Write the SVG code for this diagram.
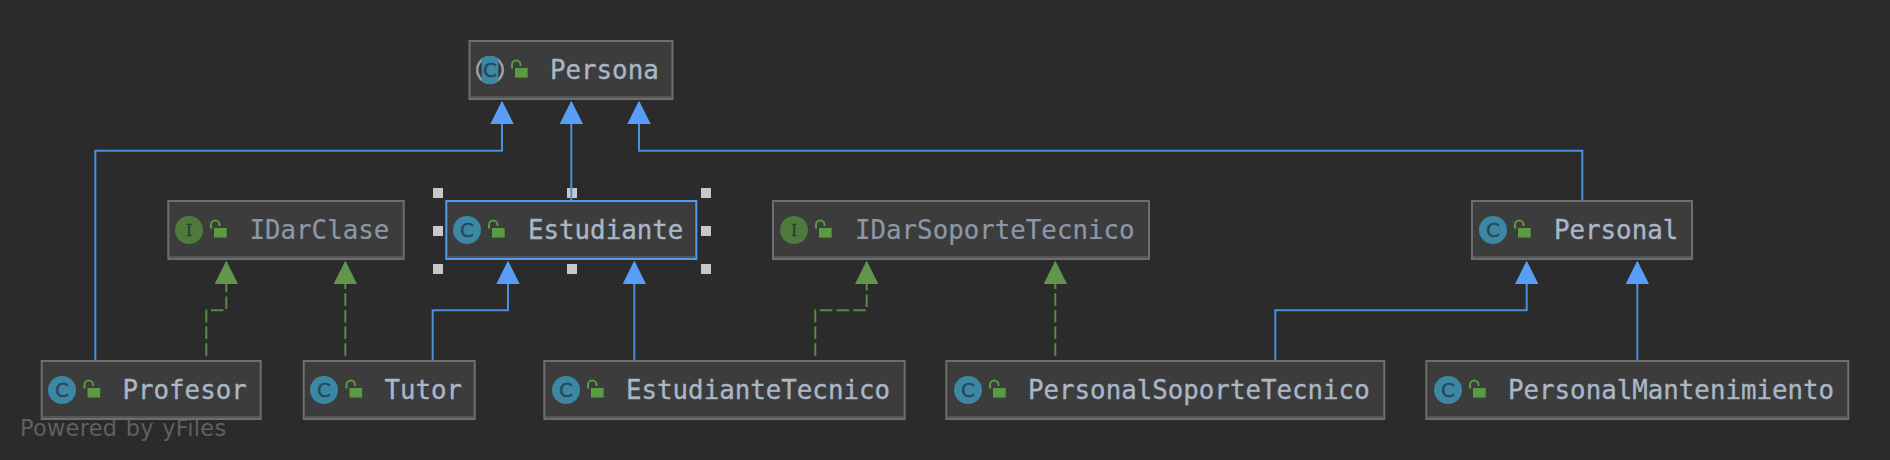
<svg xmlns="http://www.w3.org/2000/svg" width="1890" height="460" viewBox="0 0 1890 460">
<style>
.box{fill:#3c3c3c;stroke:#6e6e6e;stroke-width:2}
.sel{stroke:#4f9cf0}
.band{fill:#555555}
.name{font-family:"DejaVu Sans Mono","Liberation Mono",monospace;font-size:25.8px;fill:#a9b7c6;stroke:#a9b7c6;stroke-width:.35}
.iface{fill:#8c97a8;stroke:#8c97a8;stroke-width:.2}
.ext{fill:none;stroke:#4b8fe0;stroke-width:2}
.impl{fill:none;stroke:#5a8b46;stroke-width:2;stroke-dasharray:12.5 4.2;stroke-dashoffset:-4.2}
.hd{fill:#c8c8c8}
.wm{font-family:"DejaVu Sans","Noto Sans",sans-serif;font-size:22.4px;letter-spacing:.3px;word-spacing:1px;fill:#606060}
.ig{font-family:"DejaVu Sans","Liberation Sans",sans-serif;font-size:20px;text-anchor:middle}
.ig2{font-family:"DejaVu Serif","Liberation Serif",serif;font-size:17px;text-anchor:middle}
</style>
<defs>
<marker id="ab" viewBox="0 0 23.4 23.4" refX="0" refY="11.7" markerWidth="23.4" markerHeight="23.4" markerUnits="userSpaceOnUse" orient="auto"><path d="M0 0L23.4 11.7L0 23.4Z" fill="#589df6"/></marker>
<marker id="ag" viewBox="0 0 23.4 23.4" refX="0" refY="11.7" markerWidth="23.4" markerHeight="23.4" markerUnits="userSpaceOnUse" orient="auto"><path d="M0 0L23.4 11.7L0 23.4Z" fill="#62964c"/></marker>
<g id="lock"><path d="M0 4.5V0.8a4.2 4.2 0 0 1 8.5 0V2" fill="none" stroke="#5a9a40" stroke-width="2"/><rect x="3" y="4" width="12.7" height="9.6" fill="#5a9a40"/></g>
<g id="icC"><circle r="14" fill="#3c87a3"/><text class="ig" y="7.2" fill="#26495a" stroke="#26495a" stroke-width=".4">C</text></g>
<g id="icI"><circle r="14" fill="#4f7a3d"/><text class="ig2" y="6" fill="#2e3f2a" stroke="#2e3f2a" stroke-width=".3">I</text></g>
<clipPath id="abs"><rect x="-8.3" y="-15" width="16.6" height="30"/></clipPath>
<g id="icA"><circle r="14" fill="#9aa0a4"/><circle r="11.5" fill="#33393c"/><circle r="14" fill="#3c87a3" clip-path="url(#abs)"/><text class="ig" y="7.2" fill="#26495a" stroke="#26495a" stroke-width=".4">C</text></g>
</defs>
<rect width="1890" height="460" fill="#2b2b2b"/>
<text class="wm" x="20" y="436">Powered by yFiles</text>
<g id="handles" class="hd">
<rect x="433" y="188" width="10" height="10"/><rect x="567" y="188" width="10" height="10"/><rect x="701" y="188" width="10" height="10"/>
<rect x="433" y="226" width="10" height="10"/><rect x="701" y="226" width="10" height="10"/>
<rect x="433" y="264" width="10" height="10"/><rect x="567" y="264" width="10" height="10"/><rect x="701" y="264" width="10" height="10"/>
</g>
<g id="connectors">
<path class="ext" marker-end="url(#ab)" d="M95.3 360V150.7H502V124"/>
<path class="ext" marker-end="url(#ab)" d="M571.3 200V124"/>
<path class="ext" marker-end="url(#ab)" d="M1582.3 200V150.7H639V124"/>
<path class="impl" marker-end="url(#ag)" d="M206.3 360V310.3H226.3V284"/>
<path class="impl" marker-end="url(#ag)" d="M345.3 360V284"/>
<path class="ext" marker-end="url(#ab)" d="M432.7 360V310.3H508V284"/>
<path class="ext" marker-end="url(#ab)" d="M634.3 360V284"/>
<path class="impl" marker-end="url(#ag)" d="M815.3 360V310.3H866.7V284"/>
<path class="impl" marker-end="url(#ag)" d="M1055.3 360V284"/>
<path class="ext" marker-end="url(#ab)" d="M1275.3 360V310.3H1526.7V284"/>
<path class="ext" marker-end="url(#ab)" d="M1637.3 360V284"/>
</g>
<g id="Persona"><rect class="box" x="469.5" y="41" width="203" height="58"/><rect class="band" x="470.5" y="96" width="201" height="2"/><use href="#icA" x="490" y="70"/><use href="#lock" x="512" y="64"/><text class="name" x="550" y="78.5">Persona</text></g>
<g id="IDarClase"><rect class="box" x="168.3" y="201" width="235.4" height="58"/><rect class="band" x="169.3" y="256" width="233.4" height="2"/><use href="#icI" x="189" y="230"/><use href="#lock" x="211" y="224"/><text class="name iface" x="249.5" y="238.5">IDarClase</text></g>
<g id="Estudiante"><rect class="box sel" x="446.3" y="201" width="250" height="58"/><rect class="band" x="447.3" y="256" width="248" height="2"/><use href="#icC" x="467" y="230"/><use href="#lock" x="489" y="224"/><text class="name" x="528" y="238.5">Estudiante</text></g>
<g id="IDarSoporteTecnico"><rect class="box" x="773" y="201" width="376" height="58"/><rect class="band" x="774" y="256" width="374" height="2"/><use href="#icI" x="794" y="230"/><use href="#lock" x="816" y="224"/><text class="name iface" x="855" y="238.5">IDarSoporteTecnico</text></g>
<g id="Personal"><rect class="box" x="1472" y="201" width="220" height="58"/><rect class="band" x="1473" y="256" width="218" height="2"/><use href="#icC" x="1493" y="230"/><use href="#lock" x="1515" y="224"/><text class="name" x="1554" y="238.5">Personal</text></g>
<g id="Profesor"><rect class="box" x="41.7" y="361" width="219" height="58"/><rect class="band" x="42.7" y="416" width="217" height="2"/><use href="#icC" x="62" y="390"/><use href="#lock" x="84.5" y="384"/><text class="name" x="122.5" y="398.5">Profesor</text></g>
<g id="Tutor"><rect class="box" x="303.7" y="361" width="171" height="58"/><rect class="band" x="304.7" y="416" width="169" height="2"/><use href="#icC" x="324" y="390"/><use href="#lock" x="346.5" y="384"/><text class="name" x="384.5" y="398.5">Tutor</text></g>
<g id="EstudianteTecnico"><rect class="box" x="544.3" y="361" width="360.4" height="58"/><rect class="band" x="545.3" y="416" width="358.4" height="2"/><use href="#icC" x="566" y="390"/><use href="#lock" x="588" y="384"/><text class="name" x="626" y="398.5">EstudianteTecnico</text></g>
<g id="PersonalSoporteTecnico"><rect class="box" x="946.3" y="361" width="438" height="58"/><rect class="band" x="947.3" y="416" width="436" height="2"/><use href="#icC" x="968" y="390"/><use href="#lock" x="990" y="384"/><text class="name" x="1028" y="398.5">PersonalSoporteTecnico</text></g>
<g id="PersonalMantenimiento"><rect class="box" x="1426.3" y="361" width="422" height="58"/><rect class="band" x="1427.3" y="416" width="420" height="2"/><use href="#icC" x="1448" y="390"/><use href="#lock" x="1470" y="384"/><text class="name" x="1508" y="398.5">PersonalMantenimiento</text></g>
</svg>
